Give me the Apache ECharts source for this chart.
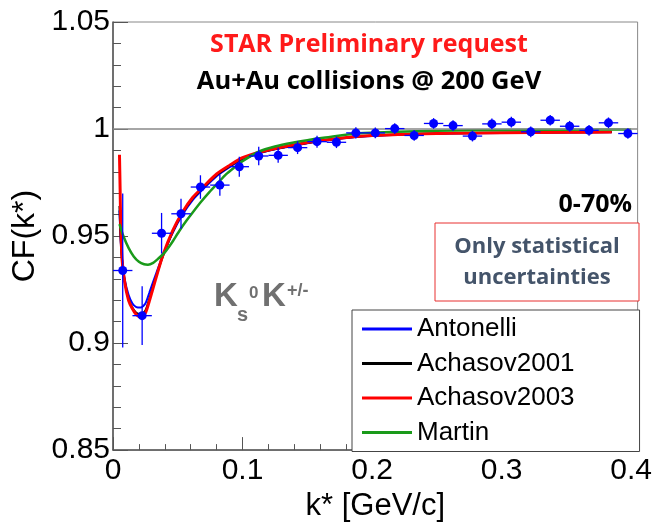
<!DOCTYPE html>
<html>
<head>
<meta charset="utf-8">
<script src="https://cdn.jsdelivr.net/npm/echarts@6/dist/echarts.min.js"></script>
<style>
  html, body { margin: 0; padding: 0; background: #fff; }
  #chart { width: 655px; height: 527px; }
</style>
</head>
<body>
<div id="chart"></div>
<script>
// Measured points (bin centres, CF values, statistical errors)
const pointX = [0.0075, 0.0225, 0.0375, 0.0525, 0.0675, 0.0825, 0.0975, 0.1125, 0.1275,
  0.1425, 0.1575, 0.1725, 0.1875, 0.2025, 0.2175, 0.2325, 0.2475, 0.2625, 0.2775,
  0.2925, 0.3075, 0.3225, 0.3375, 0.3525, 0.3675, 0.3825, 0.3975];
const pointY = [0.9339, 0.9128, 0.9513, 0.9604, 0.9729, 0.9738, 0.9824, 0.9874, 0.9877,
  0.9913, 0.9941, 0.9938, 0.9982, 0.9982, 1.0002, 0.9970, 1.0026, 1.0016, 0.9967,
  1.0024, 1.0032, 0.9987, 1.0041, 1.0013, 0.9994, 1.0029, 0.9979];
const pointErr = [0.036, 0.0137, 0.0095, 0.007, 0.0055, 0.005, 0.0047, 0.0043, 0.0035,
  0.003, 0.0028, 0.0027, 0.0026, 0.0025, 0.0025, 0.0025, 0.0025, 0.0025, 0.0025,
  0.0025, 0.0025, 0.0025, 0.0025, 0.0025, 0.0025, 0.0025, 0.0025];
const binHalfWidth = 0.0075;

// Model curves
const curveX = [0.005, 0.0055, 0.006, 0.007, 0.009, 0.012, 0.015, 0.018, 0.0215, 0.025,
  0.028, 0.033, 0.0385, 0.0461, 0.0535, 0.0615, 0.0705, 0.08, 0.09, 0.1, 0.115, 0.13,
  0.15, 0.17, 0.19, 0.22, 0.26, 0.3, 0.35, 0.385];
const antonelli = [0.962, 0.954, 0.947, 0.939, 0.930, 0.9225, 0.9185, 0.9168, 0.9166, 0.9185,
  0.9235, 0.932, 0.941, 0.9515, 0.9598, 0.9668, 0.9725, 0.978, 0.9822, 0.9858, 0.989, 0.9911,
  0.9934, 0.9951, 0.9964, 0.9973, 0.9979, 0.9982, 0.9984, 0.9985];
const achasov2001 = [0.964, 0.955, 0.948, 0.939, 0.929, 0.9205, 0.9165, 0.9142, 0.9135, 0.9152,
  0.9205, 0.9305, 0.9405, 0.952, 0.9605, 0.9675, 0.973, 0.9785, 0.9826, 0.9862, 0.9892, 0.9913,
  0.9935, 0.9952, 0.9965, 0.9974, 0.998, 0.9983, 0.9985, 0.9986];
const achasov2003 = [0.988, 0.972, 0.955, 0.939, 0.9285, 0.920, 0.9160, 0.9133, 0.9122, 0.9140,
  0.9195, 0.930, 0.941, 0.9525, 0.961, 0.968, 0.9735, 0.979, 0.983, 0.9866, 0.9895, 0.9915,
  0.9937, 0.9953, 0.9966, 0.9975, 0.998, 0.9983, 0.9985, 0.9986];
const martinX = [0.005, 0.008, 0.012, 0.016, 0.02, 0.024, 0.027, 0.031, 0.035, 0.04, 0.045,
  0.0513, 0.0565, 0.0615, 0.068, 0.0744, 0.081, 0.0872, 0.094, 0.1, 0.1128, 0.125, 0.1385,
  0.15, 0.164, 0.19, 0.22, 0.25, 0.3, 0.35, 0.4];
const martin = [0.9556, 0.950, 0.9445, 0.9405, 0.938, 0.9368, 0.9366, 0.9375, 0.9395, 0.9424,
  0.9465, 0.9525, 0.957, 0.961, 0.966, 0.9705, 0.9748, 0.9788, 0.9822, 0.985, 0.9895, 0.9918,
  0.9936, 0.9948, 0.996, 0.998, 0.9987, 0.9992, 0.9995, 0.9997, 0.9998];

const xTicks = ['0', '0.1', '0.2', '0.3', '0.4'];

const FONT = '"Liberation Sans", Arial, sans-serif';
const NOTE_FONT = '"Open Sans", Lato, sans-serif';
const GREEN = '#1a9a1a';

function pairs(xs, ys) {
  return xs.map((x, i) => [x, ys[i]]);
}

function curve(name, xs, ys, color, width) {
  return {
    name: name,
    type: 'line',
    data: pairs(xs, ys),
    showSymbol: false,
    symbol: 'none',
    smooth: 0.25,
    lineStyle: { color: color, width: width },
    itemStyle: { color: color },
    z: 3
  };
}

function note(text, x, y, size, color, align) {
  return {
    type: 'text',
    style: {
      text: text, x: x, y: y, fill: color,
      font: 'bold ' + size + 'px ' + NOTE_FONT,
      align: align || 'center', verticalAlign: 'middle'
    }
  };
}

function kText(text, x, y, size) {
  return {
    type: 'text',
    style: {
      text: text, x: x, y: y, fill: '#707070',
      font: 'bold ' + size + 'px ' + FONT, align: 'left', verticalAlign: 'bottom'
    }
  };
}

const chart = echarts.init(document.getElementById('chart'));

const option = {
  animation: false,
  backgroundColor: '#fff',
  grid: {
    left: 113, right: 15, top: 22, bottom: 75,
    show: true, borderColor: '#888', borderWidth: 1
  },
  xAxis: {
    type: 'value',
    min: 0, max: 0.405, interval: 0.1,
    name: 'k* [GeV/c]',
    nameLocation: 'middle',
    nameGap: 39,
    nameTextStyle: { fontFamily: FONT, fontSize: 31, color: '#000' },
    axisLine: { lineStyle: { color: '#555', width: 1.5 } },
    axisTick: { inside: true, length: 13, lineStyle: { color: '#555' } },
    minorTick: { show: true, splitNumber: 5, length: 6, lineStyle: { color: '#555' } },
    splitLine: { show: false },
    axisLabel: {
      fontFamily: FONT, fontSize: 30, color: '#000', margin: 6,
      showMaxLabel: false,
      formatter: v => xTicks[Math.round(v * 10)] || ''
    }
  },
  yAxis: {
    type: 'value',
    min: 0.85, max: 1.05, interval: 0.05,
    name: 'CF(k*)',
    nameLocation: 'middle',
    nameRotate: 90,
    nameGap: 53,
    nameTextStyle: { fontFamily: FONT, fontSize: 32, color: '#000' },
    axisLine: { lineStyle: { color: '#555', width: 1.5 } },
    axisTick: { inside: true, length: 15, lineStyle: { color: '#555' } },
    minorTick: { show: true, splitNumber: 5, length: 8, lineStyle: { color: '#555' } },
    splitLine: { show: false },
    axisLabel: {
      fontFamily: FONT, fontSize: 30, color: '#000', margin: 3,
      formatter: v => String(Math.round(v * 100) / 100)
    }
  },
  legend: {
    orient: 'vertical',
    left: 352, top: 310,
    data: ['Antonelli', 'Achasov2001', 'Achasov2003', 'Martin'],
    icon: 'rect',
    itemWidth: 50, itemHeight: 3, itemGap: 8.5,
    padding: [6, 65, 6, 10],
    backgroundColor: '#fff',
    borderColor: '#444', borderWidth: 1,
    textStyle: { fontFamily: FONT, fontSize: 26, color: '#000' },
    z: 10
  },
  series: [
    {
      name: 'ref',
      type: 'line',
      data: [],
      markLine: {
        silent: true, symbol: 'none', label: { show: false },
        lineStyle: { color: '#888', width: 1.5, type: 'solid' },
        data: [{ yAxis: 1 }]
      }
    },
    curve('Antonelli', curveX, antonelli, '#0000ff', 2),
    curve('Achasov2001', curveX, achasov2001, '#000000', 2),
    curve('Achasov2003', curveX, achasov2003, '#ff0000', 3),
    curve('Martin', martinX, martin, GREEN, 2.5),
    {
      name: 'data',
      type: 'custom',
      data: pointX.map((x, i) => [x, pointY[i], pointErr[i]]),
      z: 5,
      renderItem: function (params, api) {
        const x = api.value(0), y = api.value(1), e = api.value(2);
        const c = api.coord([x, y]);
        const l = api.coord([x - binHalfWidth, y]);
        const r = api.coord([x + binHalfWidth, y]);
        const t = api.coord([x, y + e]);
        const b = api.coord([x, y - e]);
        const s = { stroke: '#0000ff', lineWidth: 1.3 };
        return {
          type: 'group',
          children: [
            { type: 'line', shape: { x1: l[0], y1: l[1], x2: r[0], y2: r[1] }, style: s },
            { type: 'line', shape: { x1: t[0], y1: t[1], x2: b[0], y2: b[1] }, style: s },
            { type: 'circle', shape: { cx: c[0], cy: c[1], r: 4.5 }, style: { fill: '#0000ff' } }
          ]
        };
      }
    }
  ],
  graphic: [
    note('STAR Preliminary request', 369, 45, 25, '#ff1a1a'),
    note('Au+Au collisions @ 200 GeV', 369, 82, 25.5, '#000'),
    note('0-70%', 632, 205, 25, '#000', 'right'),
    {
      type: 'rect',
      shape: { x: 435, y: 223, width: 204, height: 78 },
      style: { fill: '#fff', stroke: '#e83030', lineWidth: 1 }
    },
    note('Only statistical', 537, 247, 22, '#44546a'),
    note('uncertainties', 537, 278, 22, '#44546a'),
    kText('K', 214, 313, 33),
    kText('s', 237, 325, 20),
    kText('0', 249, 302, 17),
    kText('K', 262, 313, 33),
    kText('+/-', 287, 300, 18)
  ]
};

chart.setOption(option);
</script>
</body>
</html>
